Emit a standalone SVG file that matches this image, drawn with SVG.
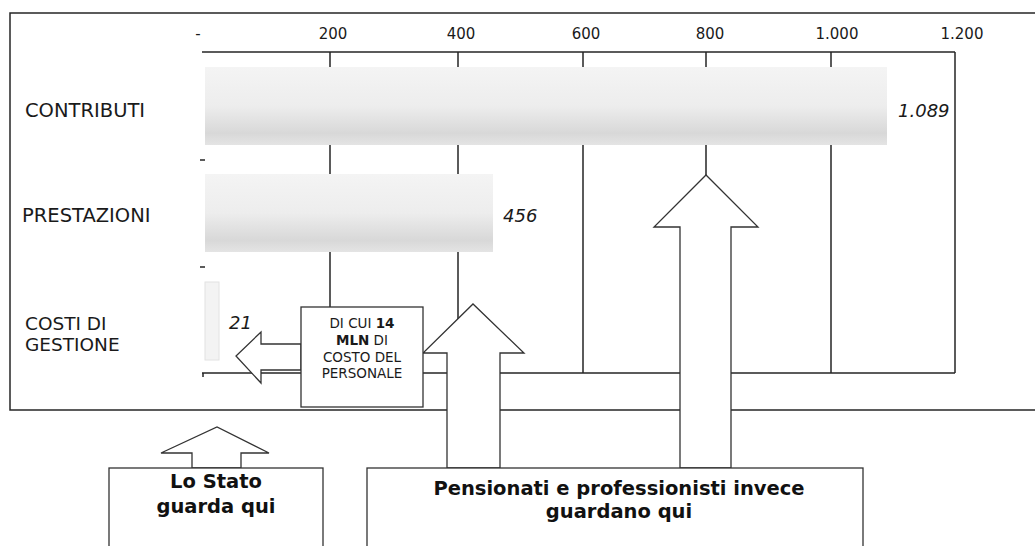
<svg xmlns="http://www.w3.org/2000/svg" width="1035" height="546" viewBox="0 0 1035 546">
<defs>
<style>
.ln{stroke:#262626;stroke-width:1.5;fill:none}
.sh{stroke:#333;stroke-width:1.3;fill:#fff}
.cat{font-family:"DejaVu Sans",Verdana,sans-serif;font-size:19.5px;fill:#1a1a1a}
.cat2{font-family:"DejaVu Sans",Verdana,sans-serif;font-size:18.5px;fill:#1a1a1a}
.tick{font-family:"DejaVu Sans",Verdana,sans-serif;font-size:15px;fill:#1a1a1a;text-anchor:middle}
.val{font-family:"DejaVu Sans",Verdana,sans-serif;font-size:18px;font-style:italic;fill:#1a1a1a}
.note{font-family:"DejaVu Sans",Verdana,sans-serif;font-size:13.5px;fill:#1a1a1a;text-anchor:middle}
.big{font-family:"DejaVu Sans",Verdana,sans-serif;font-size:19.5px;font-weight:bold;fill:#111;text-anchor:middle}
</style>
<linearGradient id="bar" x1="0" y1="0" x2="0" y2="1">
<stop offset="0" stop-color="#f4f4f4"/>
<stop offset="0.5" stop-color="#ededed"/>
<stop offset="0.85" stop-color="#d8d8d8"/>
<stop offset="1" stop-color="#e4e4e4"/>
</linearGradient>
</defs>
<rect width="1035" height="546" fill="#fff"/>
<g id="frame">
<path class="ln" d="M1040,13 H10 V410 H1040" stroke-width="2"/>
</g>
<g id="grid">
<path class="ln" d="M330,52 V373 M458,52 V373 M583,52 V373 M706,52 V373 M831,52 V373 M955,52 V373"/>
<path class="ln" d="M202,52 H955 M202,373 H955 M200,160 H205 M200,267 H205 M203,373 V377"/>
</g>
<g id="bars">
<rect x="205" y="67" width="682" height="78" fill="url(#bar)"/>
<rect x="205" y="174" width="288" height="78" fill="url(#bar)"/>
<rect x="205" y="282" width="14" height="78" fill="#f3f3f3" stroke="#e2e2e2" stroke-width="1"/>
</g>
<g id="axis-labels">
<text class="tick" x="198" y="39">-</text>
<text class="tick" x="333" y="39">200</text>
<text class="tick" x="461" y="39">400</text>
<text class="tick" x="586" y="39">600</text>
<text class="tick" x="710" y="39">800</text>
<text class="tick" x="837" y="39">1.000</text>
<text class="tick" x="962" y="39">1.200</text>
<text class="cat" x="25" y="117">CONTRIBUTI</text>
<text class="cat" x="22" y="222">PRESTAZIONI</text>
<text class="cat2" x="25" y="330">COSTI DI</text>
<text class="cat2" x="25" y="351">GESTIONE</text>
<text class="val" x="898" y="117">1.089</text>
<text class="val" x="503" y="222">456</text>
<text class="val" x="229" y="329">21</text>
</g>
<g id="connectors">
<polygon id="arrow-left" class="sh" points="301,344 261,344 261,332 236,356 261,383 261,370 301,370"/>
<polygon id="arrow-mid" class="sh" points="447,468 447,353 423,353 473,304 524,353 500,353 500,468"/>
<polygon id="arrow-big" class="sh" points="680,468 680,227 654,227 706,175 758,227 731,227 731,468"/>
<polygon id="arrow-stato" class="sh" points="192,468 192,453 161,453 217,427 269,453 241,453 241,468"/>
</g>
<g id="box-personale">
<rect class="sh" x="301" y="307" width="122" height="100"/>
<text class="note" x="362" y="328">DI CUI <tspan font-weight="bold">14</tspan></text>
<text class="note" x="362" y="345"><tspan font-weight="bold">MLN</tspan> DI</text>
<text class="note" x="362" y="362">COSTO DEL</text>
<text class="note" x="362" y="378">PERSONALE</text>
</g>
<g id="box-stato">
<rect class="sh" x="109" y="468" width="214" height="100"/>
<text class="big" x="216" y="488">Lo Stato</text>
<text class="big" x="216" y="513">guarda qui</text>
</g>
<g id="box-pensionati">
<rect class="sh" x="367" y="468" width="496" height="100"/>
<text class="big" x="619" y="495">Pensionati e professionisti invece</text>
<text class="big" x="619" y="518">guardano qui</text>
</g>
</svg>
